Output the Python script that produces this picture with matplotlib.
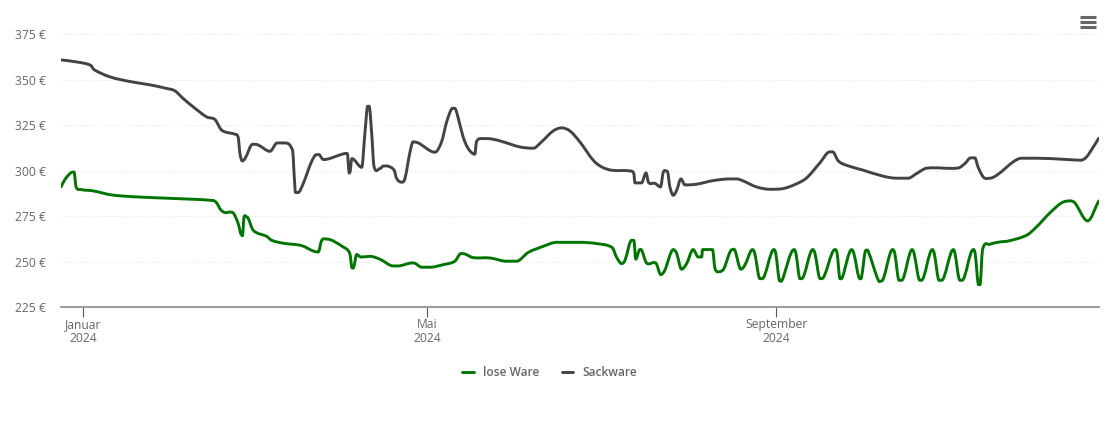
import numpy as np
import matplotlib
matplotlib.use("Agg")
import matplotlib.pyplot as plt
from matplotlib.lines import Line2D
from matplotlib.path import Path
from matplotlib.patches import PathPatch

plt.rcParams['font.family'] = ['Open Sans', 'DejaVu Sans']

# days counted from 1 Jan 2024, prices in euro
sack_days = [-7.9, -2.4, 2.5, 3.7, 9.3, 16.4, 23.4, 29.3, 32.2, 35.1, 38.7, 43.4, 46.3, 48.7, 53.3, 54.5,
             55.1, 55.9, 56.9, 59.6, 61.5, 65.7, 68.2, 70.9, 73.7, 74.1, 74.7, 75.6, 77.4, 80.3, 82.1, 82.9,
             84.4, 86.2, 91.5, 92.9, 93.5, 93.8, 94.5, 98, 99.1, 100.1, 100.6, 101.5, 102.3, 104.4, 105.6,
             107.3, 109.4, 110.3, 112, 113.2, 115, 116.1, 117.9, 123.8, 126.1, 127.9, 129.6, 130.8, 132,
             133.7, 135.5, 137.8, 138.4, 140.2, 143.7, 147.8, 153.7, 158.4, 161.3, 165.4, 168.4, 171.3,
             174.8, 179.5, 182.5, 186, 192.4, 193.8, 194.2, 196.5, 198.1, 199, 201.2, 203.2, 204.2, 205.6,
             206.5, 207.7, 208.9, 210.4, 211.8, 215.9, 221.8, 227.6, 230, 232.3, 237, 241.7, 246.4, 250.5,
             254.6, 259.3, 262.8, 263.8, 265.8, 268.7, 274.6, 281.6, 286.3, 290.4, 293.4, 296.9, 308, 310.4,
             312.4, 313.9, 315, 317, 319.2, 322.1, 327.4, 330.3, 335.6, 346.2, 351.2, 353.2, 355.6, 357.5]
sack_prices = [361, 359.9, 358.1, 355.7, 351.7, 349.1, 347.3, 345.3, 344, 339.8, 335.1, 329.6, 328.2, 322.3, 320.1, 318.3,
               309.6, 305.4, 306.7, 314.6, 314.2, 310.7, 315.3, 315.3, 310.9, 300.3, 288, 288, 293, 304.9, 308.9, 308.9,
               306.2, 306.5, 309.3, 309.5, 299.3, 299, 306.7, 301.9, 320.5, 335.5, 335.5, 320.5, 302.5, 301.2, 302.6,
               302.5, 300.3, 295.7, 293.7, 295.7, 310.4, 315.9, 315.3, 310.2, 315.9, 326.9, 333.9, 334.3, 328.8,
               318.6, 312.2, 309.1, 315.9, 317.7, 317.5, 315.9, 313.1, 312.4, 315.9, 321.9, 323.6, 321.9,
               315.9, 305.8, 302.1, 300.3, 299.9, 298.5, 293.3, 293.3, 298.8, 293.5, 293.1, 291.1, 299.3, 299.7,
               291.1, 286.5, 289.3, 295.5, 292.2, 292.6, 294.6, 295.5, 295.5, 294.4, 291.1, 289.8, 290.2, 292.4,
               296, 304.3, 310.4, 310.4, 305.4, 303, 300.3, 297, 295.9, 295.9, 298.5, 301.4, 301.5, 304,
               307.1, 307.1, 302.1, 296.3, 295.9, 298.1, 304.9, 306.9, 306.9, 306.2, 305.8, 307.6, 313.1, 317.9]

lose_days = [-7.9, -6.5, -4.5, -3.3, -2.6, -1, 3.5, 9.9, 18.7, 29.3, 45.7, 46.9, 48.3, 49.8, 52.7, 54.5, 55.6, 56.1,
             56.5, 57.5, 59.8, 64.5, 66.3, 70.4, 76.8, 80.9, 82.7, 83.9, 85.6, 91.5, 93.8, 94.6, 95.2, 96.2, 97.7,
             100.9, 104.4, 109.1, 110.8, 115.6, 116.7, 119.1, 122, 126.7, 130.8, 132.9, 134.3, 137.2, 143.1, 149,
             152.5, 156.6, 161.9, 166.6, 174.8, 180.7, 186.2, 187.7, 189.5, 190.7, 193, 193.8, 194.5, 195.9, 196.6,
             198.3, 201.6, 203.3, 204.7, 207.7, 208.9, 210.6, 212.4, 214.7, 216.5, 217.7, 218, 221.5, 222.4, 224.1,
             225.5, 228.4, 229.4, 231.5, 232.9, 235.6, 236.4, 238.2, 239, 243.1, 243.8, 245.2, 246, 250.2, 250.9,
             252.3, 252.9, 256.8, 257.6, 259.4, 260, 264.6, 265.4, 266.4, 267.2, 270.5, 271.3, 273.4, 274, 275.5,
             276.3, 279.9, 281, 284.9, 285.7, 287.2, 288.1, 291.8, 292.5, 294.5, 295.1, 298.9, 299.6, 301.3, 302.2,
             306.3, 306.9, 308.6, 309.4, 313.3, 314, 315.2, 315.7, 316.6, 319.2, 322.7, 325.6, 332.1, 335.6, 340.3,
             344.4, 347.4, 349.1, 353.6, 357.5]
lose_prices = [291.1, 295.2, 298.8, 299.3, 291.1, 289.7, 288.9, 286.7, 285.6, 284.9, 283.6, 282.3, 278.6, 277, 276.8, 270.9, 264.9, 265,
               274.2, 274.6, 267.2, 263.9, 261.7, 260.1, 258.8, 255.8, 255.3, 261.7, 262.4, 258, 254.4, 246.5, 247, 253.9, 252.5,
               252.9, 251.3, 247.6, 247.6, 249.2, 249.1, 246.9, 246.9, 248.3, 250.2, 254.4, 254.2, 252.2, 252, 250.2,
               250.2, 255, 258.4, 260.6, 260.6, 259.9, 257.7, 252.5, 248.9, 250.7, 261.7, 261.7, 251.3, 256.6, 256.2,
               249.2, 249.1, 242.8, 245.2, 256.6, 254.4, 245.8, 248.9, 256.6, 252.5, 252.5, 256.6, 256.6, 246.1, 244.5,
               246.1, 256.6, 256.2, 245.8, 248, 256.6, 254.4, 240.6, 240.6, 256.6, 254.4, 239.3, 239.7, 256.6, 254.4,
               240.6, 240.6, 256.6, 254.4, 240.6, 240.6, 256.6, 254.4, 240.6, 241.2, 256.6, 254.4, 240.6, 241.5, 256.2,
               255.8, 239.7, 239.3, 256.6, 254.4, 239.7, 239.7, 256.6, 254.4, 239.7, 239.7, 256.6, 254.4, 239.7, 239.7,
               256.6, 254.4, 239.7, 239.7, 256.6, 254.4, 237.3, 237.3, 256.6, 259.5, 260.8, 261.3, 264.5, 269.1, 276.8,
               282.3, 283.4, 282.3, 272.4, 283.4]

y_ticks = [225, 250, 275, 300, 325, 350, 375]
x_ticks = [0, 121, 244]
x_labels = ['Januar\n2024', 'Mai\n2024', 'September\n2024']

GREEN = '#007400'
GRAY = '#434343'
TXT = '#666666'


def spline(x, y):
    # smooth curve through the points, like the chart library does it
    x = np.array(x, dtype=float)
    y = np.array(y, dtype=float)
    verts = [(x[0], y[0])]
    codes = [Path.MOVETO]
    for i in range(len(x) - 1):
        a = max(i - 1, 0)
        b = min(i + 2, len(x) - 1)
        dx = x[i + 1] - x[i]
        dy = y[i + 1] - y[i]
        m0 = (y[i + 1] - y[a]) / (x[i + 1] - x[a])
        m1 = (y[b] - y[i]) / (x[b] - x[i])
        # flat at local peaks so the curve does not overshoot
        if i > 0 and (y[i] - y[a]) * dy <= 0:
            m0 = 0
        if i + 2 < len(x) and (y[b] - y[i + 1]) * dy <= 0:
            m1 = 0
        verts += [(x[i] + dx / 3, y[i] + m0 * dx / 3),
                  (x[i + 1] - dx / 3, y[i + 1] - m1 * dx / 3),
                  (x[i + 1], y[i + 1])]
        codes += [Path.CURVE4, Path.CURVE4, Path.CURVE4]
    return Path(verts, codes)


fig = plt.figure(figsize=(11.1, 4.22), dpi=100)
ax = fig.add_axes([61 / 1110, (422 - 307) / 422, 1038 / 1110, 272.5 / 422])

for p, c in [(spline(lose_days, lose_prices), GREEN), (spline(sack_days, sack_prices), GRAY)]:
    ax.add_patch(PathPatch(p, fc='none', ec=c, lw=2.1, capstyle='round', joinstyle='round', zorder=3))

ax.set_xlim(-7.9, 357.6)
ax.set_ylim(225, 375)

ax.set_yticks(y_ticks)
ax.set_yticklabels([f'{v} €' for v in y_ticks])
ax.set_xticks(x_ticks)
ax.set_xticklabels(x_labels, linespacing=1.12)
ax.tick_params(axis='y', length=0, pad=10.8, labelsize=8.7, labelcolor=TXT)
ax.tick_params(axis='x', length=7, width=0.8, color='#555555', pad=0.8, labelsize=8.7, labelcolor=TXT)
ax.grid(axis='y', color='#e6e6e6', lw=0.75, linestyle=(0, (1, 2)), clip_on=False)
ax.set_axisbelow(True)

for s in ['top', 'right', 'left']:
    ax.spines[s].set_visible(False)
ax.spines['bottom'].set_color('#808080')
ax.spines['bottom'].set_linewidth(1.1)

handles = [Line2D([], [], color=GREEN, lw=2.1, solid_capstyle='round'),
           Line2D([], [], color=GRAY, lw=2.1, solid_capstyle='round')]
fig.legend(handles, ['lose Ware', 'Sackware'], ncol=2, frameon=False, loc='center',
           bbox_to_anchor=(550 / 1110, (422 - 372.5) / 422), handlelength=0.95, handletextpad=0.8,
           columnspacing=1.85, prop={'size': 8.6, 'weight': 'semibold'}, labelcolor=TXT)

# menu icon top right
for py in [16.5, 21.5, 26.5]:
    fig.add_artist(Line2D([1080 / 1110, 1096 / 1110], [(422 - py) / 422] * 2, color='#666666', lw=2.2,
                          solid_capstyle='butt'))

plt.savefig('out.png', dpi=100)
